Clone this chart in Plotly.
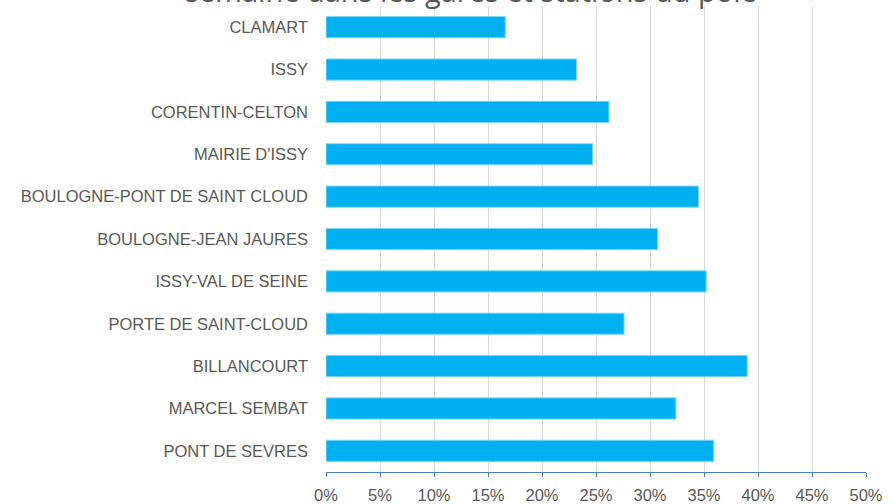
import plotly.graph_objects as go

stations = ["CLAMART", "ISSY", "CORENTIN-CELTON", "MAIRIE D'ISSY",
            "BOULOGNE-PONT DE SAINT CLOUD", "BOULOGNE-JEAN JAURES",
            "ISSY-VAL DE SEINE", "PORTE DE SAINT-CLOUD", "BILLANCOURT",
            "MARCEL SEMBAT", "PONT DE SEVRES"]
values = [0.166, 0.232, 0.262, 0.247, 0.345, 0.307, 0.352, 0.276, 0.390, 0.324, 0.359]
tick_vals = [0, 0.05, 0.10, 0.15, 0.20, 0.25, 0.30, 0.35, 0.40, 0.45, 0.50]
tick_text = ["0%", "5%", "10%", "15%", "20%", "25%", "30%", "35%", "40%", "45%", "50%"]
title_line = "semaine dans les gares et stations du pôle"

fig = go.Figure(go.Bar(
    x=values, y=stations, orientation="h",
    marker=dict(color="#00B0F0", line=dict(color="#7FD6F7", width=1)),
    width=0.5,
))

label_font = dict(family="Liberation Sans Narrow, Arial Narrow, Liberation Sans, Arial", size=16.5, color="#595959")

fig.update_layout(
    width=894, height=504,
    margin=dict(l=326, r=28, t=6, b=32, autoexpand=False),
    paper_bgcolor="white", plot_bgcolor="white",
    showlegend=False,
    bargap=0.5,
    xaxis=dict(
        range=[0, 0.5], tickvals=tick_vals, ticktext=tick_text,
        showgrid=True, gridcolor="#D9D9D9", gridwidth=1,
        showline=True, linecolor="#4A7EC0", linewidth=1,
        ticks="outside", ticklen=4, tickcolor="#4A7EC0",
        tickfont=label_font, zeroline=False, fixedrange=True,
        automargin=False, ticklabelstandoff=4,
    ),
    yaxis=dict(
        categoryorder="array", categoryarray=stations, autorange="reversed",
        tickfont=label_font, showline=False, ticks="", ticklabelstandoff=17,
        showgrid=False, zeroline=False, automargin=False,
    ),
    annotations=[dict(
        text=title_line, xref="paper", yref="paper", x=0.268, y=1,
        xanchor="center", yanchor="bottom", yshift=-6, showarrow=False,
        font=dict(family="Open Sans, Noto Sans, sans-serif", size=29, color="#595959"),
    )],
)

fig.write_html("out.html", config={"displayModeBar": False},
               post_script="document.body.style.margin='0';document.body.style.overflow='hidden';")
